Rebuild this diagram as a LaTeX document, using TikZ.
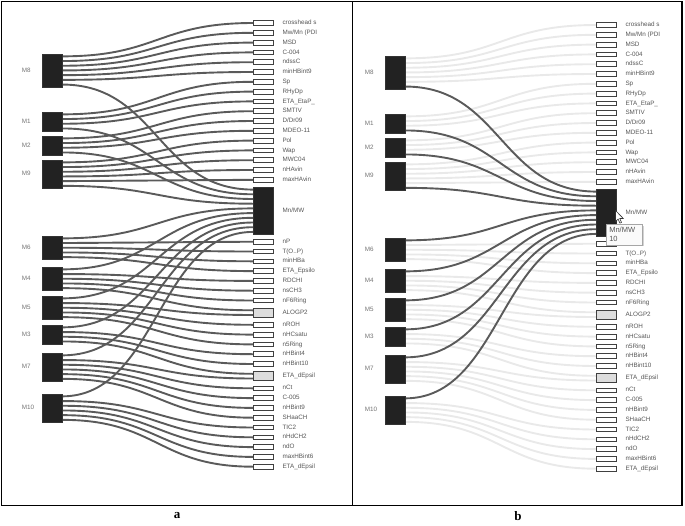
\documentclass[tikz,border=0pt]{standalone}
\usepackage{fontspec}
\setmainfont{Liberation Serif}
\setsansfont{Liberation Sans}
\usetikzlibrary{shadows,backgrounds}
\definecolor{modelfill}{HTML}{222222}
\definecolor{linkdark}{HTML}{5A5A5A}
\definecolor{linklight}{HTML}{E9E9E9}
\definecolor{descgrey}{HTML}{DDDDDD}
\definecolor{txtgrey}{HTML}{555555}
\begin{document}
\begin{tikzpicture}[x=1pt,y=-1pt,
    model/.style={draw=black!80,fill=modelfill,line width=0.6pt,minimum width=19.5pt,inner sep=0pt,outer sep=0pt},
    desc/.style={draw=black!75,line width=0.8pt,minimum width=20pt,inner sep=0pt,outer sep=0pt},
    mnbox/.style={draw=black!80,fill=modelfill,line width=0.6pt,minimum width=20pt,minimum height=47pt,inner sep=0pt,outer sep=0pt},
    lbl/.style={anchor=west,inner sep=0pt,text=txtgrey,font=\sffamily\fontsize{6.3}{7}\selectfont,text height=4.5pt,text depth=1.2pt},
    mlbl/.style={lbl,text=black!55},
    flow/.style={line width=1.9pt},
    tip/.style={draw=black!35,fill=black!2,line width=0.6pt,drop shadow={shadow xshift=1.2pt,shadow yshift=-1.2pt,opacity=0.35},
        anchor=north west,align=left,text width=30pt,inner sep=3pt,minimum height=20pt,text=txtgrey,font=\sffamily\fontsize{7.5}{9}\selectfont},
    panellbl/.style={font=\bfseries\fontsize{13}{15}\selectfont}]
    \useasboundingbox (0,0) rectangle (685,525);
    % draw the frame
    \draw[line width=1.3pt] (1.5,1.5) rectangle (682,505.5);
    \draw[line width=1.3pt] (352.5,1.5) -- (352.5,505.5);
    \node[panellbl] (pa) at (177,516) {a};
    \node[panellbl] (pb) at (518,516) {b};

    \foreach \p/\dx/\dy/\col in {a/0/0/linkdark, b/343/-2/linklight} {
      \begin{scope}[xshift=\dx, yshift=\dy]
        % draw the models
        \foreach \m/\yc/\n in {M8/70.45/7, M1/121.4/4, M2/145.4/4, M9/174.1/6, M6/247.75/5,
                               M4/278.75/5, M5/307.75/5, M3/334.4/4, M7/367.1/6, M10/408.1/6} {
          \node[model, minimum height=\n*4.7pt] (\p-\m) at (52.5,\yc) {};
          \node[mlbl] (\p-\m-t) at ([xshift=-21pt]\p-\m.west) {\m};
        }
        % draw the descriptors
        \foreach \k/\yc/\u/\f/\txt in {
            1/23/1/white/crosshead s,
            2/32.8/1/white/{Mw/Mn (PDI},
            3/42.6/1/white/MSD,
            4/52.4/1/white/C-004,
            5/62.2/1/white/ndssC,
            6/72/1/white/minHBint9,
            7/81.8/1/white/Sp,
            8/91.6/1/white/RHyDp,
            9/101.4/1/white/ETA\_EtaP\_,
            10/111.2/1/white/SMTIV,
            11/121/1/white/{D/Dr09},
            12/130.8/1/white/MDEO-11,
            13/140.6/1/white/Pol,
            14/150.4/1/white/Wap,
            15/160.2/1/white/MWC04,
            16/170/1/white/nHAvin,
            17/179.8/1/white/maxHAvin,
            19/241.7/1/white/nP,
            20/251.5/1/white/{T(O..P)},
            21/261.3/1/white/minHBa,
            22/271.1/1/white/ETA\_Epsilo,
            23/280.9/1/white/RDCHI,
            24/290.7/1/white/nsCH3,
            25/300.5/1/white/nF6Ring,
            26/312.65/2/descgrey/ALOGP2,
            27/324.8/1/white/nROH,
            28/334.6/1/white/nHCsatu,
            29/344.4/1/white/n5Ring,
            30/354.2/1/white/nHBint4,
            31/364/1/white/nHBint10,
            32/376.15/2/descgrey/ETA\_dEpsil,
            33/388.3/1/white/nCt,
            34/398.1/1/white/C-005,
            35/407.9/1/white/nHBint9,
            36/417.7/1/white/SHaaCH,
            37/427.5/1/white/TIC2,
            38/437.3/1/white/nHdCH2,
            39/447.1/1/white/ndO,
            40/456.9/1/white/maxHBint6,
            41/466.7/1/white/ETA\_dEpsil} {
          \node[desc, fill=\f, minimum height=\u*4.7pt] (\p-d\k) at (263.3,\yc) {};
          \node[lbl] (\p-d\k-t) at ([xshift=9pt]\p-d\k.east) {\txt};
        }
        \node[mnbox] (\p-mn) at (263.3,210.75) {};
        \node[lbl] (\p-mn-t) at ([xshift=9pt]\p-mn.east) {Mn/MW};

        \begin{scope}[on background layer]
        % draw the links to the descriptors
        \foreach \m/\s/\k/\t in {
            M8/1/1/1, M8/2/2/1, M8/3/3/1, M8/4/4/1, M8/5/5/1, M8/6/6/1,
            M1/1/7/1, M1/2/8/1, M1/3/9/1,
            M2/1/10/1, M2/2/11/1, M2/3/12/1,
            M9/1/13/1, M9/2/14/1, M9/3/15/1, M9/4/16/1, M9/5/17/1,
            M6/2/19/1, M6/3/20/1, M6/4/21/1, M6/5/22/1,
            M4/2/23/1, M4/3/24/1, M4/4/25/1, M4/5/26/1,
            M5/2/26/2, M5/3/27/1, M5/4/28/1, M5/5/29/1,
            M3/2/30/1, M3/3/31/1, M3/4/32/1,
            M7/2/32/2, M7/3/33/1, M7/4/34/1, M7/5/35/1, M7/6/36/1,
            M10/2/37/1, M10/3/38/1, M10/4/39/1, M10/5/40/1, M10/6/41/1}
          \draw[flow,\col] ([yshift={-(\s-0.5)*4.7}]\p-\m.north east)
              .. controls +(95.5,0) and +(-95.5,0) .. ([yshift={-(\t-0.5)*4.7}]\p-d\k.north west);
        % draw the links to Mn/MW
        \foreach \m/\s/\t in {M8/7/1, M1/4/2, M2/4/3, M9/6/4, M6/1/5, M4/1/6, M5/1/7, M3/1/8, M7/1/9, M10/1/10}
          \draw[flow,linkdark] ([yshift={-(\s-0.5)*4.7}]\p-\m.north east)
              .. controls +(95.5,0) and +(-95.5,0) .. ([yshift={-(\t-0.5)*4.7}]\p-mn.north west);
        \end{scope}
      \end{scope}
    }

    % draw the tooltip and the pointer
    \node[tip] (tipbox) at (606,224) {Mn/MW\\10};
    \draw[fill=white,draw=black!80,line width=0.6pt,shift={(615.5,210.5)}]
        (0,0) -- (0,11) -- (2.6,8.6) -- (4.4,12.6) -- (6,11.9) -- (4.3,8) -- (7.8,8) -- cycle;
\end{tikzpicture}
\end{document}
